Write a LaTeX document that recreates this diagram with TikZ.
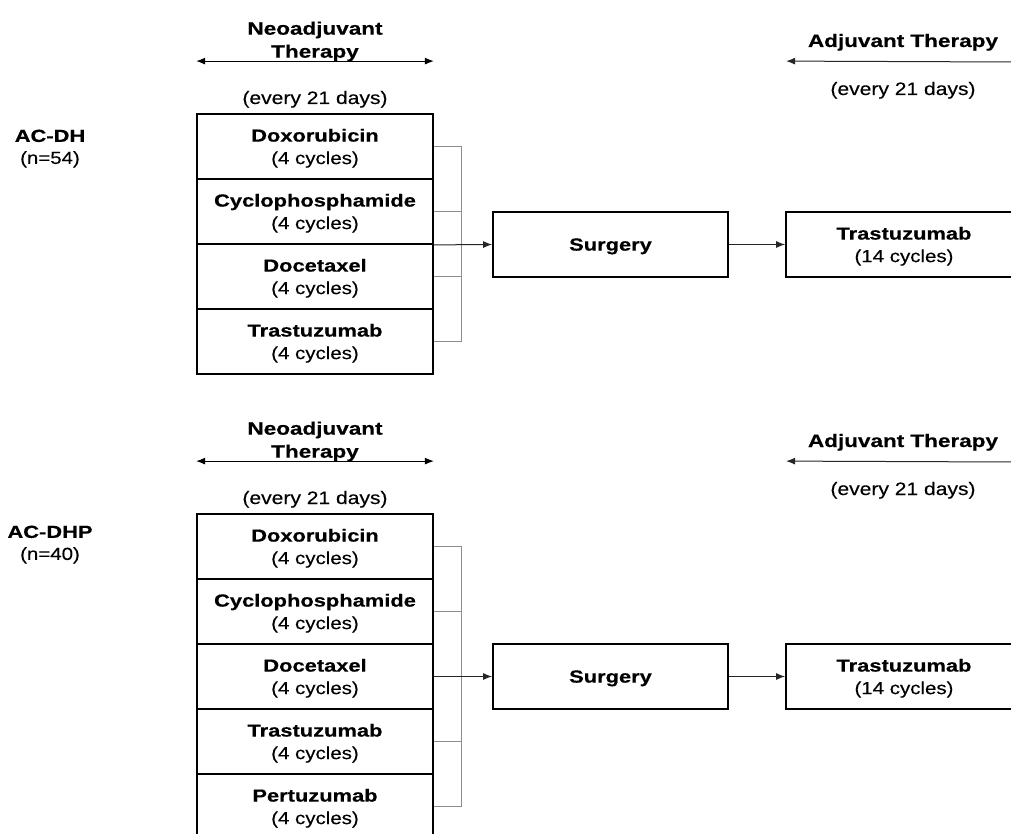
\documentclass[tikz,border=0pt]{standalone}
\usepackage{fontspec}
\setmainfont{Liberation Sans}[FakeStretch=1.17,FakeBold=0.25,BoldFeatures={FakeStretch=1.25,FakeBold=0.5}]
\usetikzlibrary{arrows.meta}
\tikzset{
  drug/.style={draw, line width=1.8pt, minimum width=236pt, minimum height=65pt,
    align=center, inner sep=0pt, text depth=-2pt, font=\fontsize{17.5}{22.5}\selectfont},
  lbl/.style={align=center, inner sep=0pt, font=\fontsize{18}{23}\selectfont},
  grp/.style={align=center, inner sep=0pt, font=\fontsize{17.5}{22}\selectfont},
  brk/.style={draw=black!45, line width=0.9pt},
  flow/.style={line width=1pt, draw=black!85, -{Latex[length=9pt,width=7pt]}},
  span/.style={line width=1.1pt, {Latex[length=9pt,width=7pt]}-{Latex[length=9pt,width=7pt]}},
}
\begin{document}
\begin{tikzpicture}[x=1pt,y=-1pt]
\useasboundingbox (0,0) rectangle (1011,834);

% ---------- top group ----------
\node[grp] (g1) at (50,148.6) {\textbf{AC-DH}\\(n=54)};
\node[lbl] (n1) at (315,41.5) {\textbf{Neoadjuvant}\\\textbf{Therapy}};
\node[lbl, anchor=base] (e1) at (315,104) {(every 21 days)};
\node[lbl, anchor=base] (j1) at (903,47) {\textbf{Adjuvant Therapy}};
\node[lbl, anchor=base] (k1) at (903,95) {(every 21 days)};

\node[drug] (a1) at (315,146.5) {\textbf{Doxorubicin}\\(4 cycles)};
\node[drug] (a2) at (315,211.5) {\textbf{Cyclophosphamide}\\(4 cycles)};
\node[drug] (a3) at (315,276.5) {\textbf{Docetaxel}\\(4 cycles)};
\node[drug] (a4) at (315,341.5) {\textbf{Trastuzumab}\\(4 cycles)};
\node[drug, minimum width=235pt] (as) at (610.5,244.5) {\textbf{Surgery}};
\node[drug] (at) at (904,244.5) {\textbf{Trastuzumab}\\(14 cycles)};

\draw[brk] (a1.east) -- ++(28,0) |- (a4.east);
\draw[brk] (a2.east) -- ++(28,0);
\draw[brk] (a3.east) -- ++(28,0);
\draw[flow] (a2.south east) -- (as.west);
\draw[flow] (as.east) -- (at.west);
\draw[span] ([yshift=52pt]a1.north west) -- ([yshift=52pt]a1.north east);
\coordinate (r1) at (1012,62);
\draw[flow] (r1) -- ([yshift=150pt,xshift=1pt]at.north west);

% ---------- bottom group ----------
\node[grp] (g2) at (50,544.6) {\textbf{AC-DHP}\\(n=40)};
\node[lbl] (n2) at (315,441.5) {\textbf{Neoadjuvant}\\\textbf{Therapy}};
\node[lbl, anchor=base] (e2) at (315,504) {(every 21 days)};
\node[lbl, anchor=base] (j2) at (903,447) {\textbf{Adjuvant Therapy}};
\node[lbl, anchor=base] (k2) at (903,495) {(every 21 days)};

\node[drug] (b1) at (315,546.5) {\textbf{Doxorubicin}\\(4 cycles)};
\node[drug] (b2) at (315,611.5) {\textbf{Cyclophosphamide}\\(4 cycles)};
\node[drug] (b3) at (315,676.5) {\textbf{Docetaxel}\\(4 cycles)};
\node[drug] (b4) at (315,741.5) {\textbf{Trastuzumab}\\(4 cycles)};
\node[drug] (b5) at (315,806.5) {\textbf{Pertuzumab}\\(4 cycles)};
\node[drug, minimum width=235pt] (bs) at (610.5,676.5) {\textbf{Surgery}};
\node[drug] (bt) at (904,676.5) {\textbf{Trastuzumab}\\(14 cycles)};

\draw[brk] (b1.east) -- ++(28,0) |- (b5.east);
\draw[brk] (b2.east) -- ++(28,0);
\draw[brk] (b4.east) -- ++(28,0);
\draw[flow] (b3.east) -- (bs.west);
\draw[flow] (bs.east) -- (bt.west);
\draw[span] ([yshift=52pt]b1.north west) -- ([yshift=52pt]b1.north east);
\coordinate (r2) at (1012,462);
\draw[flow] (r2) -- ([yshift=182pt,xshift=1pt]bt.north west);
\end{tikzpicture}
\end{document}
